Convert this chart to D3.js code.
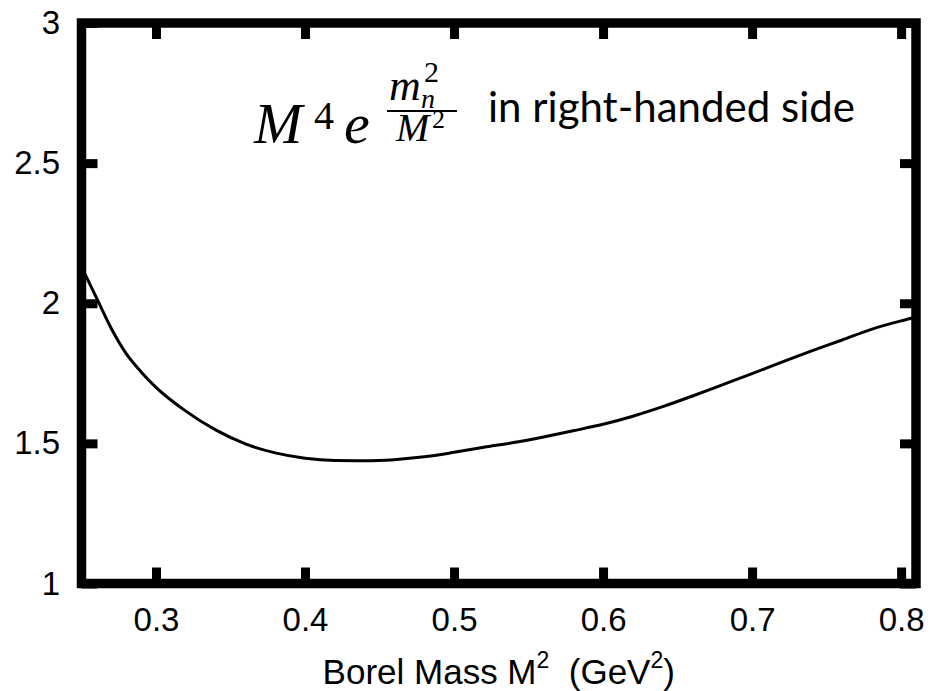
<!DOCTYPE html>
<html>
<head>
<meta charset="utf-8">
<script src="https://cdn.jsdelivr.net/npm/d3@7"></script>
<style>
  html, body { margin: 0; padding: 0; background: #fff; }
  svg { display: block; }
</style>
</head>
<body>
<svg id="chart" width="935" height="691"></svg>
<script>
// ---- data ----
const borelM2 = [0.25, 0.26, 0.27, 0.28, 0.29, 0.30, 0.32, 0.34, 0.36, 0.38, 0.40, 0.42, 0.44, 0.46, 0.48, 0.50, 0.52, 0.54, 0.56, 0.58, 0.60, 0.62, 0.64, 0.66, 0.68, 0.70, 0.72, 0.74, 0.76, 0.78, 0.80, 0.81];
const ratio   = [2.13, 2.02, 1.91, 1.82, 1.755, 1.70, 1.615, 1.548, 1.498, 1.466, 1.447, 1.439, 1.438, 1.442, 1.452, 1.468, 1.486, 1.503, 1.523, 1.545, 1.568, 1.597, 1.631, 1.669, 1.709, 1.749, 1.790, 1.830, 1.868, 1.907, 1.937, 1.950];
const xTickValues = [0.3, 0.4, 0.5, 0.6, 0.7, 0.8];
const xTickLabels = ["0.3", "0.4", "0.5", "0.6", "0.7", "0.8"];
const yTickValues = [1, 1.5, 2, 2.5, 3];
const yTickLabels = ["1", "1.5", "2", "2.5", "3"];
const xDomain = [0.25, 0.81];
const yDomain = [1, 3];

// ---- layout ----
const svg = d3.select("#chart");
const L = 81.5, R = 916, T = 23, B = 583.5;
const x = d3.scaleLinear().domain(xDomain).range([L, R]);
const y = d3.scaleLinear().domain(yDomain).range([B, T]);
const tickFont = "'Liberation Sans', Arial, Helvetica, sans-serif";

svg.append("rect").attr("width", 935).attr("height", 691).attr("fill", "#fff");

// curve
const line = d3.line().x((d, i) => x(borelM2[i])).y(d => y(d)).curve(d3.curveMonotoneX);
svg.append("path")
  .datum(ratio)
  .attr("d", line)
  .attr("fill", "none")
  .attr("stroke", "#000")
  .attr("stroke-width", 3);

// axes (inward ticks)
function styleAxis(g) {
  g.select(".domain").remove();
  g.selectAll(".tick line").attr("stroke", "#000").attr("stroke-width", 9);
  g.selectAll(".tick text")
    .attr("fill", "#000")
    .style("font-family", tickFont)
    .style("font-size", "33px");
}
svg.append("g").attr("transform", `translate(0,${B})`)
  .call(d3.axisBottom(x).tickValues(xTickValues).tickFormat((d, i) => xTickLabels[i]).tickSize(-16).tickPadding(24))
  .call(styleAxis);
svg.append("g").attr("transform", `translate(0,${T})`)
  .call(d3.axisTop(x).tickValues(xTickValues).tickFormat("").tickSize(-16))
  .call(styleAxis);
svg.append("g").attr("transform", `translate(${L},0)`)
  .call(d3.axisLeft(y).tickValues(yTickValues).tickFormat((d, i) => yTickLabels[i]).tickSize(-16).tickPadding(21.5))
  .call(styleAxis);
svg.append("g").attr("transform", `translate(${R},0)`)
  .call(d3.axisRight(y).tickValues(yTickValues).tickFormat("").tickSize(-16))
  .call(styleAxis);

// frame
svg.append("rect")
  .attr("x", L).attr("y", T).attr("width", R - L).attr("height", B - T)
  .attr("fill", "none").attr("stroke", "#000").attr("stroke-width", 9.5)
  .attr("stroke-linejoin", "miter");

// x-axis title
const xt = svg.append("text")
  .attr("x", (L + R) / 2).attr("y", 684)
  .attr("text-anchor", "middle")
  .attr("fill", "#000")
  .style("font-family", tickFont)
  .style("font-size", "35px");
xt.append("tspan").text("Borel Mass M");
xt.append("tspan").attr("dy", -16).style("font-size", "23px").text("2");
xt.append("tspan").attr("dy", 16).text("\u00a0\u00a0(GeV");
xt.append("tspan").attr("dy", -16).style("font-size", "23px").text("2");
xt.append("tspan").attr("dy", 16).text(")");

// annotation formula  M^4 e^{m_n^2 / M^2}  (one text element, positioned pieces)
const mathFont = "'Liberation Serif', 'Times New Roman', serif";
const formulaParts = [
  { t: "M", x: 254, y: 143, s: 58, it: true },
  { t: "4", x: 314, y: 129, s: 40, it: false },
  { t: "e", x: 344, y: 143, s: 58, it: true },
  { t: "m", x: 389, y: 100, s: 44, it: true },
  { t: "2", x: 424, y: 82,  s: 30, it: false },
  { t: "n", x: 421, y: 108, s: 28, it: true },
  { t: "M", x: 396, y: 141, s: 40, it: true },
  { t: "2", x: 432, y: 128, s: 26, it: false }
];
const ftext = svg.append("text").attr("fill", "#000").style("font-family", mathFont);
formulaParts.forEach(p => {
  ftext.append("tspan")
    .attr("x", p.x).attr("y", p.y)
    .style("font-size", p.s + "px")
    .style("font-style", p.it ? "italic" : "normal")
    .text(p.t);
});
svg.append("line").attr("x1", 387).attr("x2", 457).attr("y1", 111).attr("y2", 111)
  .attr("stroke", "#000").attr("stroke-width", 1.8);

svg.append("text")
  .attr("x", 488).attr("y", 122)
  .attr("fill", "#000")
  .style("font-family", "Lato, 'Open Sans', sans-serif")
  .style("font-size", "42px")
  .text("in right-handed side");
</script>
</body>
</html>
